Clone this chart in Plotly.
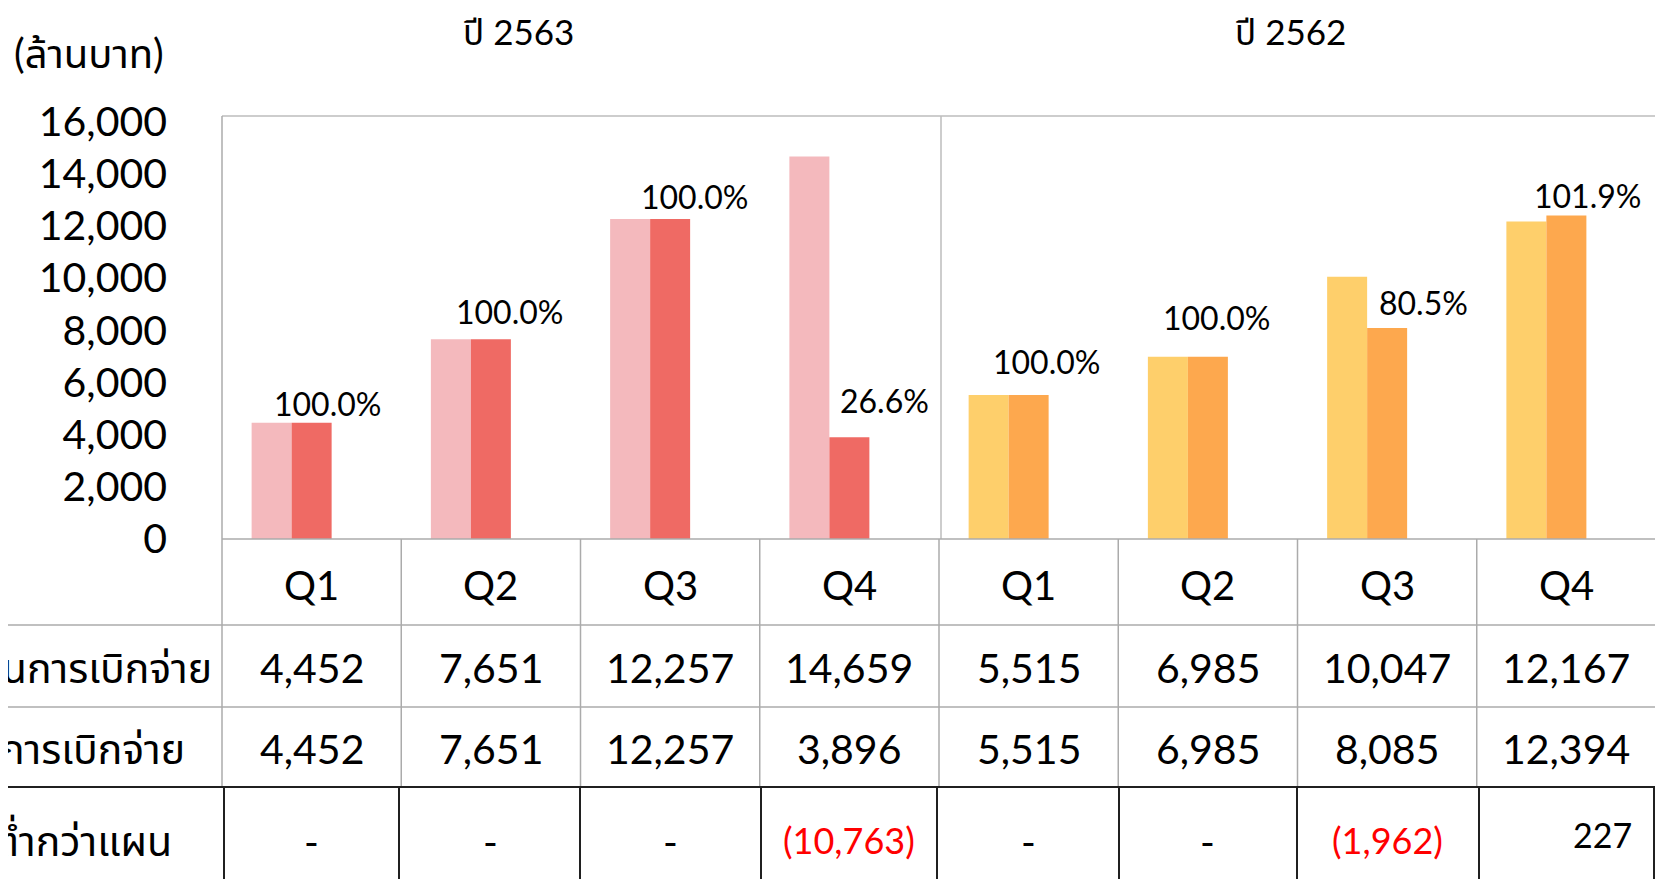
import plotly.graph_objects as go

# ---------------- data ----------------
quarters = ["Q1", "Q2", "Q3", "Q4", "Q1", "Q2", "Q3", "Q4"]
year_titles = ["ปี 2563", "ปี 2562"]
plan_values = [4452, 7651, 12257, 14659, 5515, 6985, 10047, 12167]
actual_values = [4452, 7651, 12257, 3896, 5515, 6985, 8085, 12394]
row_labels = ["แผนการเบิกจ่าย", "ผลการเบิกจ่าย", "สูง/ต่ำกว่าแผน"]
unit_label = "(ล้านบาท)"
y_ticks = [0, 2000, 4000, 6000, 8000, 10000, 12000, 14000, 16000]

# ---------------- style ----------------
PAGE_W, PAGE_H = 1663, 879
OFF = 8                       # default page body margin
W, H = PAGE_W - OFF, PAGE_H - OFF
FONT = "Lato, 'Noto Sans Thai', 'Noto Sans', sans-serif"
plan_colors = ["#F4B9BD"] * 4 + ["#FECF6B"] * 4
actual_colors = ["#EF6A64"] * 4 + ["#FDA84E"] * 4
GRAY = "#ababab"
BORDER = "#bcbcbc"
BLACK = "#202020"

# positions in page pixels
X0, X1 = 222, 1656
COLW = (X1 - X0) / 8
Y_TOP, Y_BASE = 116, 539
ROW_LINES = [625, 707]
ROW_BLACK = 787
ROW3_VLINES = [224, 399, 580, 761, 937, 1119, 1297, 1479, 1654]
DIVIDER_X = 941
LABEL_DX = [16, 19, 24, 35, 18, 9, 36, 21]
LABEL_DY = [19, 28, 23, 37, 34, 39, 25, 20]


def xp(px):
    return (px - OFF) / W


def yp(py):
    return 1 - (py - OFF) / H


bar_w = 40 / COLW
xs = list(range(len(quarters)))

fig = go.Figure()
fig.add_trace(go.Bar(x=xs, y=plan_values, marker=dict(color=plan_colors, line=dict(width=0)),
                     name="plan", hoverinfo="skip"))
fig.add_trace(go.Bar(x=xs, y=actual_values, marker=dict(color=actual_colors, line=dict(width=0)),
                     name="actual", hoverinfo="skip"))

shift = 20 / COLW
y_max = (Y_BASE - Y_TOP) / 26.1 * 1000
fig.update_layout(
    width=W, height=H, autosize=False,
    margin=dict(l=0, r=0, t=0, b=0, pad=0, autoexpand=False),
    paper_bgcolor="white", plot_bgcolor="white",
    showlegend=False,
    barmode="group", bargap=1 - 2 * bar_w, bargroupgap=0,
    xaxis=dict(domain=[xp(X0), xp(X1)], range=[-0.5 + shift, 7.5 + shift],
               showticklabels=False, showgrid=False, zeroline=False, showline=False,
               fixedrange=True, automargin=False),
    yaxis=dict(domain=[yp(Y_BASE), yp(Y_TOP)], range=[0, y_max],
               tickvals=y_ticks, tickformat=",", showgrid=False, zeroline=False,
               showline=False, ticks="", ticklabelstandoff=54, automargin=False,
               tickfont=dict(family=FONT, size=41, color="black"), fixedrange=True),
    font=dict(family=FONT, color="black"),
)

shapes = []


def line(x0, y0, x1, y1, color, width=1.5):
    shapes.append(dict(type="line", xref="paper", yref="paper",
                       x0=xp(x0), y0=yp(y0), x1=xp(x1), y1=yp(y1),
                       line=dict(color=color, width=width)))


# chart border
line(X0, Y_TOP, X1, Y_TOP, BORDER)
line(X0, Y_TOP, X0, ROW_BLACK, GRAY)
line(X1, Y_TOP, X1, ROW_BLACK, GRAY)
line(DIVIDER_X, Y_TOP, DIVIDER_X, Y_BASE, BORDER)
line(X0, Y_BASE, X1, Y_BASE, GRAY)
for k in range(1, 8):
    cx = X0 + COLW * k
    line(cx, Y_BASE, cx, ROW_BLACK, GRAY)
for ry in ROW_LINES:
    line(0, ry, X1, ry, GRAY)
line(0, ROW_BLACK, X1, ROW_BLACK, BLACK, 2)
for vx in ROW3_VLINES:
    line(vx, ROW_BLACK, vx, PAGE_H, BLACK, 2)

annotations = []


def text(x, y, s, size, color="black", xanchor="center"):
    annotations.append(dict(xref="paper", yref="paper", x=xp(x), y=yp(y), text=s,
                            showarrow=False, xanchor=xanchor, yanchor="middle",
                            font=dict(family=FONT, size=size, color=color)))


# titles
text(12, 53, unit_label, 40, xanchor="left")
text(518, 31, year_titles[0], 35)
text(1290, 31, year_titles[1], 35)

# percentage labels
for i, (p, a) in enumerate(zip(plan_values, actual_values)):
    annotations.append(dict(xref="x", yref="y", x=i + bar_w / 2, y=a,
                            text=f"{a / p * 100:.1f}%", showarrow=False,
                            xanchor="center", yanchor="middle",
                            xshift=LABEL_DX[i], yshift=LABEL_DY[i],
                            font=dict(family=FONT, size=32, color="black")))

# table
row_y = [585, 667, 748, 840]
for k, q in enumerate(quarters):
    cx = X0 + COLW * (k + 0.5)
    text(cx, row_y[0], q, 40)
    text(cx, row_y[1], f"{plan_values[k]:,}", 41)
    text(cx, row_y[2], f"{actual_values[k]:,}", 41)
    diff = actual_values[k] - plan_values[k]
    if diff == 0:
        text(cx, row_y[3] + 2, "-", 40)
    elif diff < 0:
        text(cx, row_y[3], f"({abs(diff):,})", 36, color="#FF0000")
    else:
        text(1634, row_y[3] - 6, f"{diff:,}", 34, xanchor="right")

text(214, row_y[1], row_labels[0], 41, xanchor="right")
text(187, row_y[2], row_labels[1], 41, xanchor="right")
text(174, row_y[3], row_labels[2], 41, xanchor="right")

fig.update_layout(shapes=shapes, annotations=annotations)
fig.write_html("out.html")
